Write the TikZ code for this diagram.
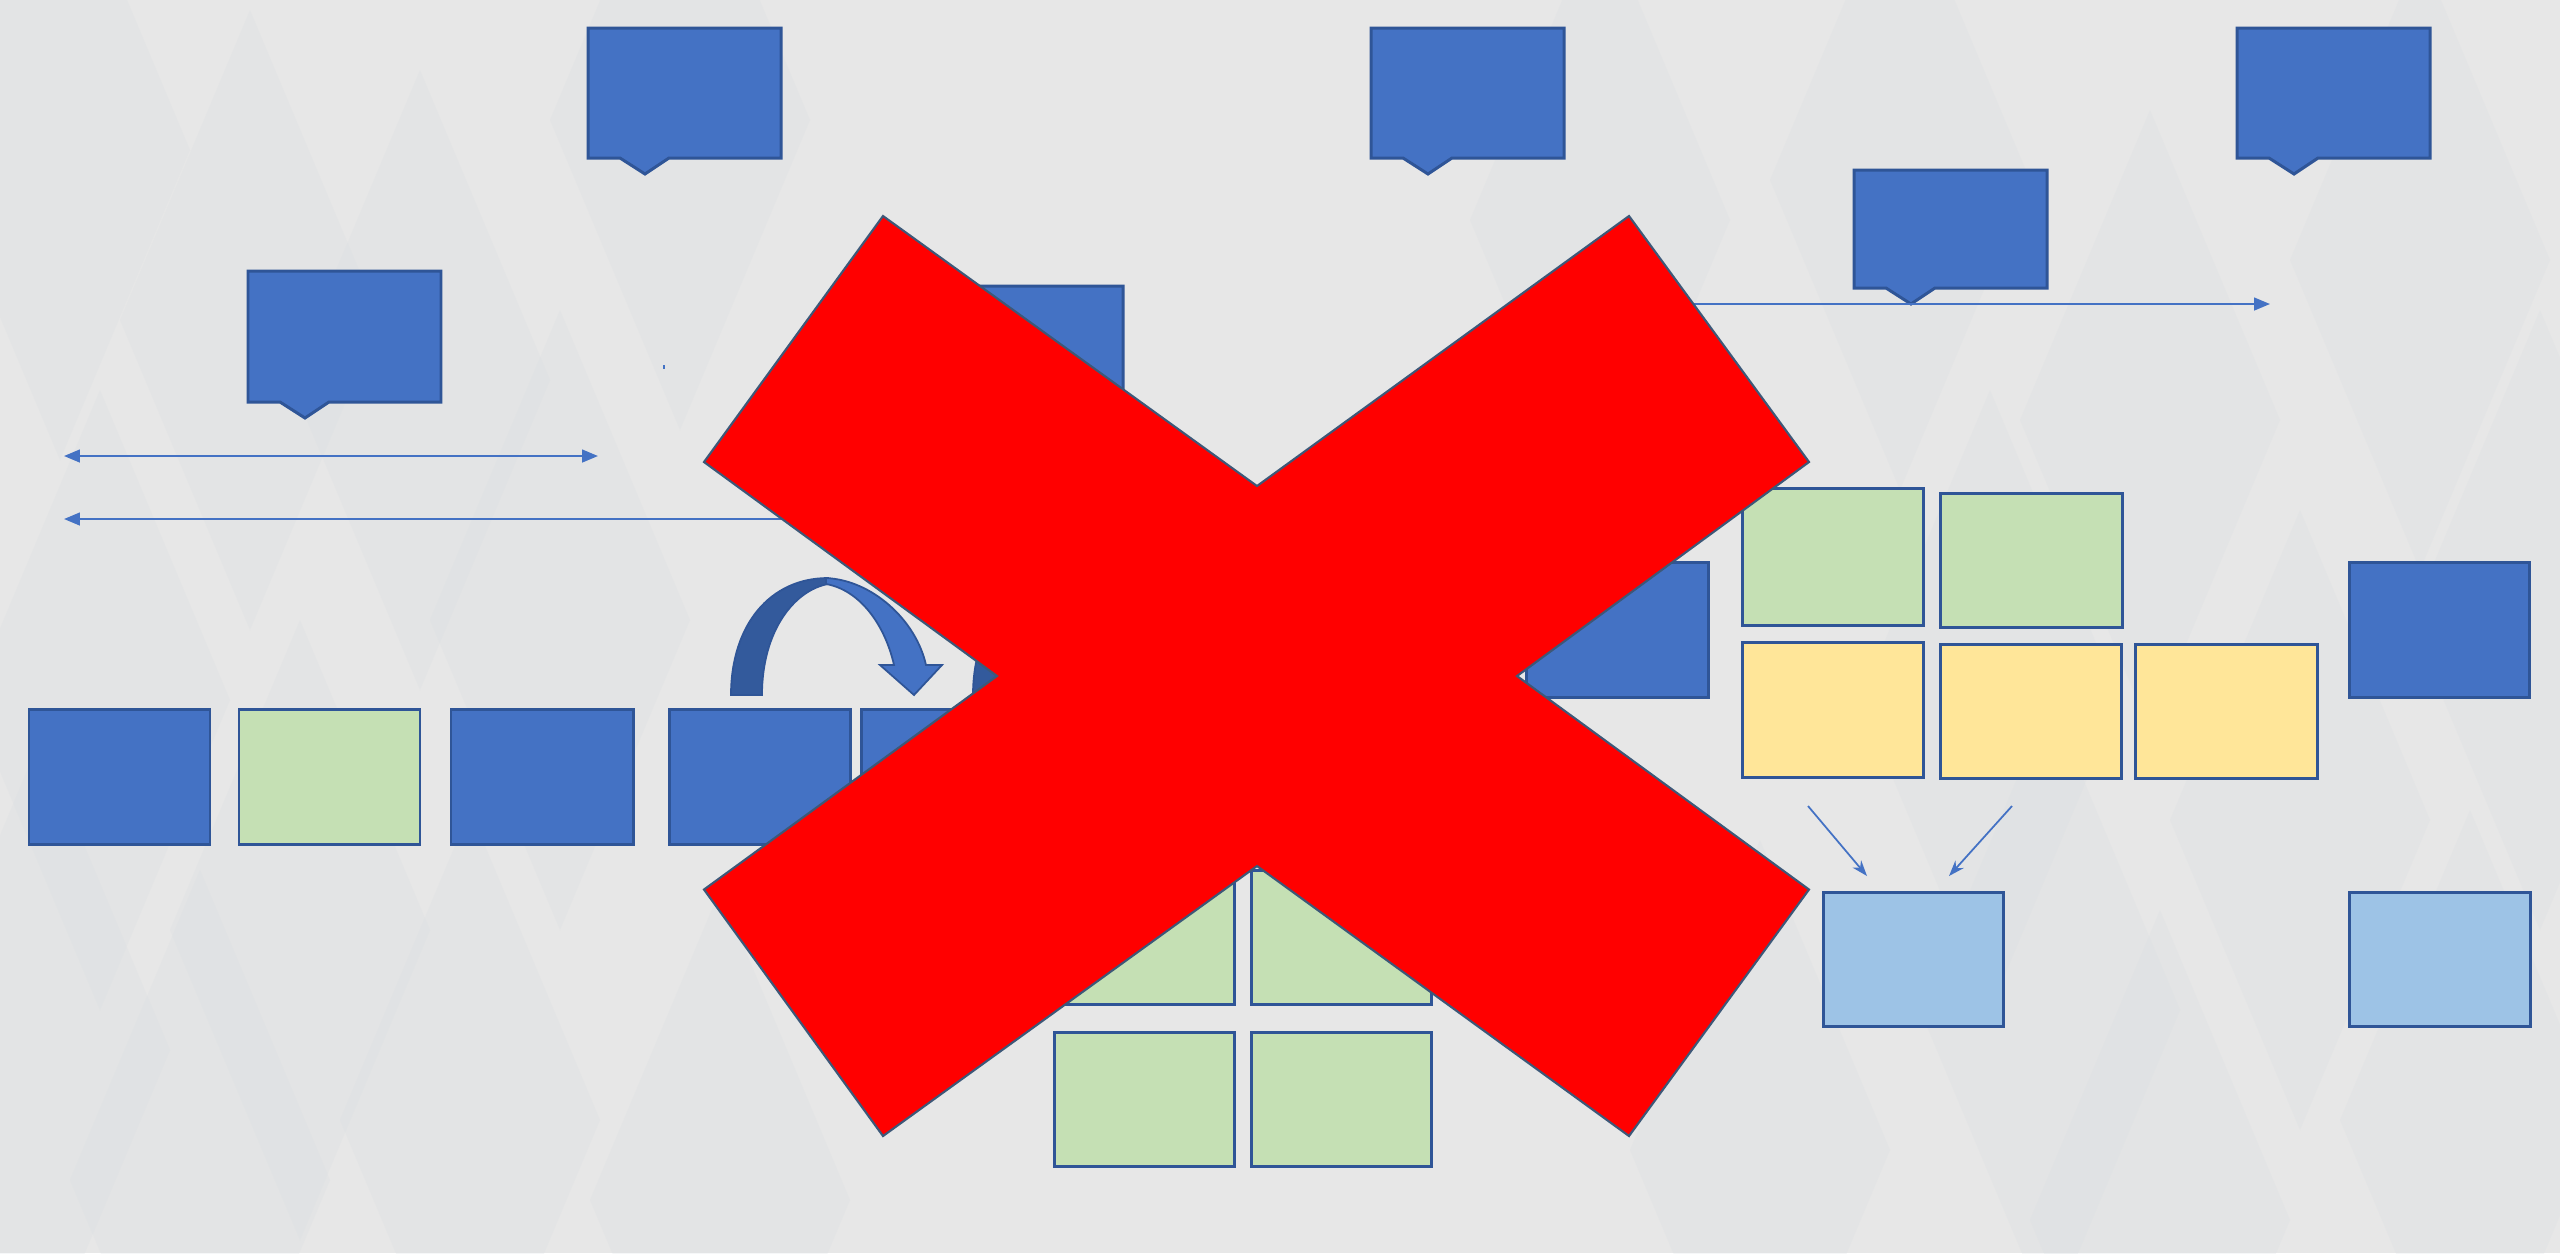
\documentclass[tikz,border=0pt]{standalone}
\usetikzlibrary{arrows.meta}
\definecolor{bblue}{HTML}{4472C4}
\definecolor{bedge}{HTML}{2F5597}
\definecolor{bgreen}{HTML}{C5E0B4}
\definecolor{byellow}{HTML}{FFE699}
\definecolor{blight}{HTML}{9DC3E6}
\definecolor{bgcol}{HTML}{E7E7E7}
\definecolor{facet}{HTML}{D6DCE1}
\definecolor{arcdark}{HTML}{335A9C}
\definecolor{xred}{HTML}{FF0000}
\definecolor{xedge}{HTML}{3D5878}
\tikzset{mtip/.tip={Triangle[length=4.5pt, width=3.6pt]}, dtip/.tip={Stealth[length=4.5pt, width=3.2pt]}}
\newcommand\mycallout[4]{%
  \draw[callout] ({#2},{#3}) -- ({#2+193},{#3}) -- ({#2+193},{#3+#4}) -- ({#2+81},{#3+#4}) -- ({#2+57},{#3+#4+16}) -- ({#2+32},{#3+#4}) -- ({#2},{#3+#4}) -- cycle;
  \coordinate (#1) at ({#2+96.5},{#3+#4/2});}
\newcommand\mycurvedarrow{%
  \filldraw[fill=arcdark, draw=bedge, line width=0.5pt] (731,695) .. controls (731,625) and (770,578) .. (828,578) -- (828,584) .. controls (795,590) and (762,630) .. (762,695) -- cycle;
  \filldraw[fill=bblue, draw=bedge, line width=0.5pt] (826,578) .. controls (872,580) and (916,620) .. (926,665) -- (942,665) -- (914,695) -- (880,665) -- (894,665) .. controls (885,625) and (860,590) .. (826,584) -- cycle;}
\begin{document}
\begin{tikzpicture}[x=0.01cm,y=-0.01cm,
  bx/.style={draw=bedge, line width=0.85pt, inner sep=0pt, outer sep=0pt},
  sz/.style 2 args={minimum width=#1*0.01cm, minimum height=#2*0.01cm},
  blueb/.style={bx, fill=bblue},
  greenb/.style={bx, fill=bgreen},
  yellowb/.style={bx, fill=byellow},
  lightb/.style={bx, fill=blight},
  callout/.style={draw=bedge, fill=bblue, line width=0.85pt, line join=miter},
  conn/.style={draw=bblue, line width=0.6pt},
  facetd/.style={fill=facet, opacity=0.22}]
\useasboundingbox (0,0) rectangle (2560,1253);
\fill[bgcol] (0,0) rectangle (2560,1253);
\begin{scope}
  \clip (0,0) rectangle (2560,1253);
  \foreach \cx/\cy in {60/150, 250/320, 100/700, 300/930, 200/1180, 470/1120, 560/620, 40/1050, 420/380, 720/1200, 680/120,
                       1600/220, 1900/180, 2150/420, 2420/260, 2300/820, 2050/1010, 2470/1120, 1760/1150, 2160/1220, 2540/620, 1990/700}
    \fill[facetd] (\cx,\cy-310) -- (\cx+130,\cy) -- (\cx,\cy+310) -- (\cx-130,\cy) -- cycle;
\end{scope}

% top-left row of boxes
\node[blueb, sz={181}{135}] (b1) at (119.5,776.5) {};
\node[greenb, sz={181}{135}] (b2) at (329.5,776.5) {};
\node[blueb, sz={182}{135}] (b3) at (542,776.5) {};
\node[blueb, sz={181}{135}] (b4) at (759.5,776.5) {};
\node[blueb, sz={182}{135}] (b5) at (952,776.5) {};

% centre green grid
\node[greenb, sz={180}{134}] (g1) at (1144,937) {};
\node[greenb, sz={180}{134}] (g2) at (1341,937) {};
\node[greenb, sz={180}{134}] (g3) at (1144,1099) {};
\node[greenb, sz={180}{134}] (g4) at (1341,1099) {};

% right structure
\node[blueb, sz={182}{135}] (bx) at (1617,629.5) {};
\node[greenb, sz={181}{137}] (rg1) at (1832.5,556.5) {};
\node[greenb, sz={182}{134}] (rg2) at (2031,560) {};
\node[yellowb, sz={181}{135}] (y1) at (1832.5,709.5) {};
\node[yellowb, sz={181}{134}] (y2) at (2030.5,711) {};
\node[yellowb, sz={182}{134}] (y3) at (2226.5,711) {};
\node[blueb, sz={180}{135}] (br) at (2439,629.5) {};
\node[lightb, sz={180}{134}] (lb1) at (1913,959) {};
\node[lightb, sz={181}{134}] (lb2) at (2439.5,959) {};

% callouts
\mycallout{c1}{588}{28}{130}
\mycallout{c2}{248}{271}{131}
\mycallout{c3}{930}{286}{130}
\mycallout{c4}{1371}{28}{130}
\mycallout{c5}{1854}{170}{118}
\mycallout{c6}{2237}{28}{130}

% connectors
\coordinate (a1l) at (64,456);
\coordinate (a1r) at (598,456);
\coordinate (a2l) at (64,519);
\coordinate (a2r) at (1200,519);
\coordinate (a3l) at (1560,304);
\coordinate (a3r) at (2270,304);
\coordinate (d1s) at (1808,806);
\coordinate (d1e) at (1867,876);
\coordinate (d2s) at (2012,806);
\coordinate (d2e) at (1949,876);
\draw[conn, mtip-mtip] (a1l) -- (a1r);
\draw[conn, mtip-] (a2l) -- (a2r);
\draw[conn, -mtip] (a3l) -- (a3r);
\draw[conn, line width=0.5pt, -dtip] (d1s) -- (d1e);
\draw[conn, line width=0.5pt, -dtip] (d2s) -- (d2e);
\fill[bblue] (663,365) rectangle (665,369);

% curved arrows
\mycurvedarrow
\begin{scope}[shift={(242,0)}]
  \mycurvedarrow
\end{scope}

% red cross
\filldraw[fill=xred, draw=xedge, line width=0.6pt, line join=miter]
  (883,216) -- (1257,486) -- (1629,216) -- (1809,462) -- (1517,676) -- (1809,889.5)
  -- (1629,1136) -- (1257,866) -- (883,1136) -- (704,889.5) -- (997,676) -- (704,462) -- cycle;
\end{tikzpicture}
\end{document}
